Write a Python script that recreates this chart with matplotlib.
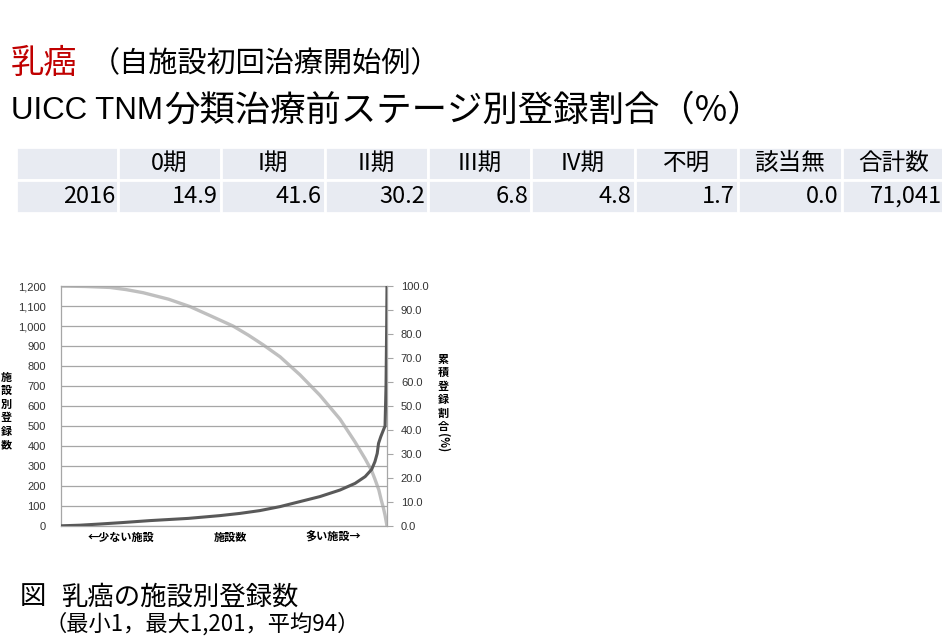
import numpy as np
import matplotlib.pyplot as plt
from matplotlib.ticker import FuncFormatter

plt.rcParams['font.family'] = ['Noto Sans CJK JP', 'DejaVu Sans']

# stage table (registrations 2016)
table_year = '2016'
stage_labels = ['0期', 'I期', 'II期', 'III期', 'IV期', '不明', '該当無']
stage_pct = [14.9, 41.6, 30.2, 6.8, 4.8, 1.7, 0.0]
total_cases = 71041

# registrations per facility, sorted ascending (x = facility rank, % of facilities)
count_rank = [0, 5.8, 12.0, 18.7, 27.3, 39.0, 48.8, 54.9, 61.0, 67.2, 73.3,
              79.4, 85.6, 90.2, 93.3, 95.3, 96.3, 97.0, 97.4, 98.1, 98.9,
              99.4, 99.7, 99.9, 100]
count_values = [1, 4, 10, 17, 27, 38, 52, 63, 77, 97, 122,
                147, 180, 213, 247, 283, 322, 363, 413, 447, 480,
                500, 700, 1000, 1201]

# cumulative registration share (%) counted from the largest facilities
cum_rank = [0, 7.4, 15.0, 20.0, 25.2, 33.0, 39.6, 46.0, 52.8, 57.5, 62.0,
            67.2, 73.3, 79.4, 85.6, 90.2, 93.3, 95.3, 96.3, 97.5, 98.2,
            98.9, 99.4, 99.8, 100]
cum_pct = [100, 99.8, 99.4, 98.5, 97.2, 94.5, 91.4, 87.5, 83.3, 79.5, 75.5,
           70.5, 63.0, 54.5, 44.5, 35.0, 28.0, 23.0, 19.5, 15.0, 11.0,
           7.5, 4.5, 1.5, 0]

W, H = 942, 641
fig = plt.figure(figsize=(W / 100, H / 100), dpi=100)

# titles
fig.text(11 / W, 1 - 63 / H, '乳癌', color='#c00000', fontsize=24, va='center')
fig.text(91 / W, 1 - 64 / H, '（自施設初回治療開始例）', fontsize=21, va='center')
fig.text(11 / W, 1 - 111 / H, 'UICC TNM', fontsize=22.5, va='center',
         family=['Liberation Sans', 'DejaVu Sans'])
fig.text(164 / W, 1 - 111 / H, '分類治療前ステージ別登録割合（%）',
         fontsize=25.5, va='center')

# table
tax = fig.add_axes([16 / W, 1 - 213 / H, (945 - 16) / W, 66 / H])
tax.axis('off')
header = [''] + stage_labels + ['合計数']
row = [table_year] + [f'{v:.1f}' for v in stage_pct] + [f'{total_cases:,}']
tbl = tax.table(cellText=[header, row], colWidths=[102] + [103.4] * 8,
                bbox=[0, 0, 1, 1], cellLoc='right')
tbl.auto_set_font_size(False)
for (r, c), cell in tbl.get_celld().items():
    cell.set_facecolor('#e8ebf2')
    cell.set_edgecolor('white')
    cell.set_linewidth(2)
    cell.PAD = 0.03
    cell.get_text().set_fontsize(17)
    if r == 0:
        cell.get_text().set_horizontalalignment('center')

# chart
ax = fig.add_axes([61 / W, 1 - 526 / H, 326 / W, 240 / H])
ax.plot(count_rank, count_values, color='#595959', lw=2.2, zorder=3,
        solid_joinstyle='round')
ax.set_xlim(0, 100)
ax.set_ylim(0, 1200)
ax.set_yticks(range(0, 1201, 100))
ax.yaxis.set_major_formatter(FuncFormatter(lambda v, p: f'{int(v):,}'))
ax.set_xticks([])
ax.grid(axis='y', color='#a6a6a6', lw=0.9)
ax.tick_params(axis='y', length=0, pad=11, labelsize=8, labelcolor='#333333')
for s in ax.spines.values():
    s.set_color('#a6a6a6')
    s.set_linewidth(0.9)

ax2 = ax.twinx()
ax2.plot(cum_rank, cum_pct, color='#bfbfbf', lw=2.4, zorder=2,
         solid_joinstyle='round')
ax2.set_ylim(0, 100)
ax2.set_yticks(range(0, 101, 10))
ax2.yaxis.set_major_formatter(FuncFormatter(lambda v, p: f'{v:.1f}'))
ax2.tick_params(axis='y', direction='out', length=4, color='#a6a6a6', pad=6,
                labelsize=8, labelcolor='#333333')
for s in ax2.spines.values():
    s.set_visible(False)
ax.set_zorder(ax2.get_zorder() + 1)
ax.patch.set_visible(False)

for lbl in ax.get_yticklabels() + ax2.get_yticklabels():
    lbl.set_family(['Liberation Sans', 'DejaVu Sans'])

# axis labels
fig.text(6 / W, 1 - 411 / H, '\n'.join('施設別登録数'), fontsize=8,
         fontweight='bold', ha='center', va='center', linespacing=1.05)
fig.text(443 / W, 1 - 393 / H, '\n'.join('累積登録割合'), fontsize=8,
         fontweight='bold', ha='center', va='center', linespacing=1.05)
fig.text(443 / W, 1 - 443 / H, '(%)', fontsize=8, fontweight='bold',
         ha='center', va='center', rotation=270)
fig.text(121 / W, 1 - 537 / H, '←少ない施設', fontsize=8, fontweight='bold',
         ha='center', va='center')
fig.text(230 / W, 1 - 537 / H, '施設数', fontsize=8, fontweight='bold',
         ha='center', va='center')
fig.text(333 / W, 1 - 537 / H, '多い施設→', fontsize=8, fontweight='bold',
         ha='center', va='center')

# caption
fig.text(20 / W, 1 - 597 / H, '図', fontsize=19, va='center')
fig.text(61 / W, 1 - 597 / H, '乳癌の施設別登録数', fontsize=19, va='center')
fig.text(44 / W, 1 - 624 / H, '（最小1，最大1,201，平均94）', fontsize=16,
         va='center')

fig.savefig('out.png', dpi=100)
